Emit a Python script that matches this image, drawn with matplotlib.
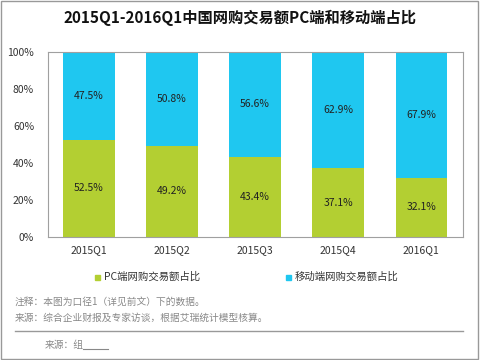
import matplotlib
matplotlib.use('Agg')
import matplotlib.pyplot as plt
import numpy as np

plt.rcParams['font.family'] = ['Noto Sans CJK SC', 'DejaVu Sans']

quarters = ['2015Q1', '2015Q2', '2015Q3', '2015Q4', '2016Q1']
pc = [52.5, 49.2, 43.4, 37.1, 32.1]
mobile = [47.5, 50.8, 56.6, 62.9, 67.9]
names = ['PC端网购交易额占比', '移动端网购交易额占比']
green = '#b3cf32'
blue = '#1fc7f0'

fig = plt.figure(figsize=(4.8, 3.6), dpi=100)
ax = fig.add_axes([48/480, 1-237/360, 415/480, 185/360])

x = np.arange(len(quarters))
ax.bar(x, pc, width=0.62, color=green)
ax.bar(x, mobile, width=0.62, bottom=pc, color=blue)
for i in range(len(x)):
    ax.text(x[i], pc[i]/2, f'{pc[i]:.1f}%', ha='center', va='center', fontsize=7.5, color='#222222')
    ax.text(x[i], pc[i] + mobile[i]/2, f'{mobile[i]:.1f}%', ha='center', va='center', fontsize=7.5, color='#222222')

ax.set_xlim(-0.49, 4.5)
ax.set_ylim(0, 100)
ax.set_yticks(range(0, 101, 20))
ax.set_yticklabels([f'{v}%' for v in range(0, 101, 20)])
ax.set_xticks(x)
ax.set_xticklabels(quarters)
ax.tick_params(length=0, labelsize=7.5, colors='#333333')
ax.tick_params(axis='y', pad=10)
ax.tick_params(axis='x', pad=6)
for s in ax.spines.values():
    s.set_color('#a0a0a0')
    s.set_linewidth(0.8)

fig.text(0.5, 1-18/360, '2015Q1-2016Q1中国网购交易额PC端和移动端占比', ha='center', va='center',
         fontsize=11, fontweight='bold', color='#111111')

# legend
fig.patches.append(plt.Rectangle((95/480, 1-280/360), 5/480, 5/360, transform=fig.transFigure, color=green))
fig.text(104/480, 1-277/360, names[0], va='center', fontsize=7.5, color='#333333')
fig.patches.append(plt.Rectangle((286/480, 1-280/360), 5/480, 5/360, transform=fig.transFigure, color=blue))
fig.text(295/480, 1-277/360, names[1], va='center', fontsize=7.5, color='#333333')

# notes
fig.text(15/480, 1-302/360, '注释：本图为口径1（详见前文）下的数据。', va='center', fontsize=7, color='#888888')
fig.text(15/480, 1-318/360, '来源：综合企业财报及专家访谈，根据艾瑞统计模型核算。', va='center', fontsize=7, color='#888888')
fig.add_artist(plt.Line2D([15/480, 463/480], [1-331/360, 1-331/360], color='#999999', lw=1))
fig.text(45/480, 1-345/360, '来源：组', va='center', fontsize=7, color='#888888')
fig.add_artist(plt.Line2D([83/480, 108/480], [1-349/360, 1-349/360], color='#888888', lw=0.8))

# outer border
fig.add_artist(plt.Rectangle((0.002, 0.003), 0.994, 0.994, transform=fig.transFigure, fill=False, ec='#999999', lw=1))

fig.savefig('out.png', dpi=100)
